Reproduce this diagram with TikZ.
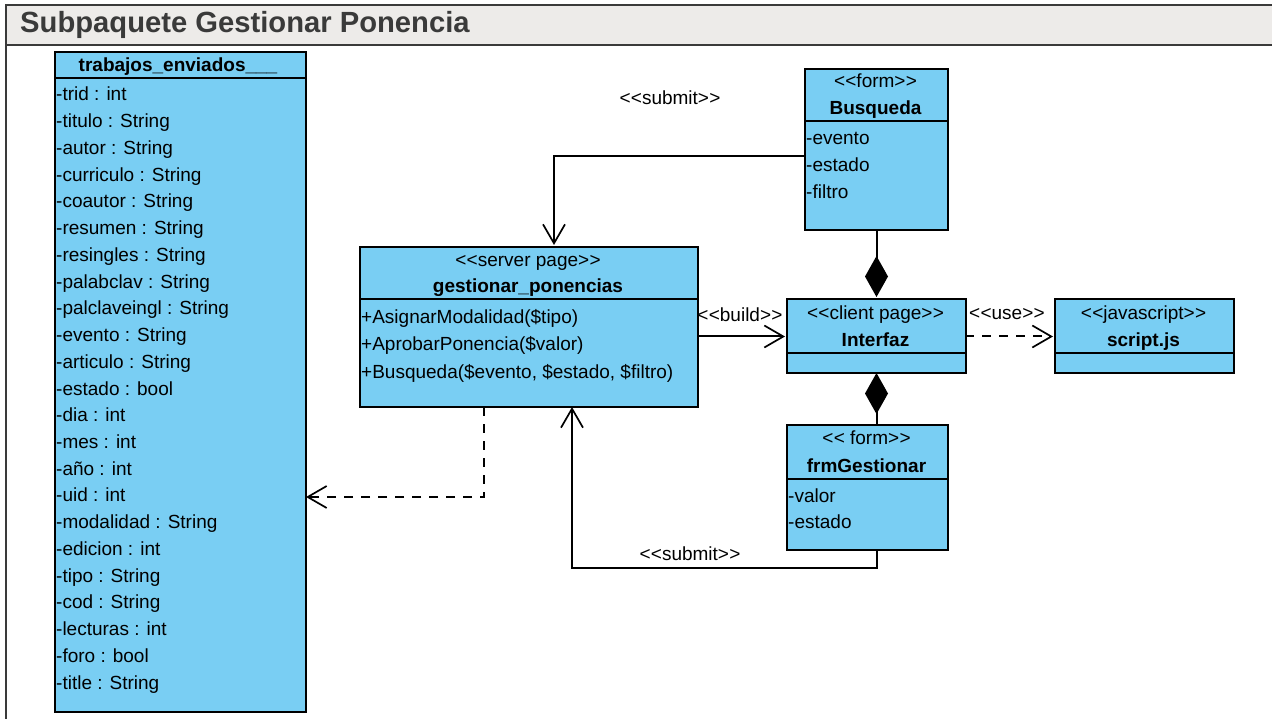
\documentclass[tikz,border=0pt]{standalone}
\usepackage{fontspec}
\setmainfont{Liberation Sans}
\usetikzlibrary{arrows.meta}

\definecolor{boxblue}{HTML}{79CEF3}
\definecolor{framegray}{HTML}{3A3A3A}
\definecolor{headgray}{HTML}{EDEBE9}

% stereotype brackets as two separate angle signs (kern keeps them apart)
\newcommand{\stereo}[1]{\textless\kern0.3pt\textless #1\textgreater\kern0.3pt\textgreater}

\begin{document}
\begin{tikzpicture}[x=1pt,y=-1pt,
  umlbox/.style={draw=black,fill=boxblue,line width=2.2pt,inner sep=0pt,anchor=north west},
  divider/.style={line width=1.3pt},
  txt/.style={inner sep=0pt,font=\fontsize{19}{23}\selectfont},
  clsname/.style={inner sep=0pt,font=\fontsize{19}{23}\selectfont\bfseries},
  conn/.style={line width=2pt},
  openhead/.style={-{Straight Barb[length=19pt,width=22pt,line width=1.7pt]}},
  dashline/.style={dash pattern=on 9pt off 8pt},
  diamondtail/.style={{Diamond[length=41pt,width=23pt]}-}
]
\useasboundingbox (0,0) rectangle (1272,719);

% package frame and title band
\fill[headgray] (6,5) rectangle (1272,45);
\draw[framegray,line width=2.5pt] (1272,5) -- (6,5) -- (6,719);
\draw[framegray,line width=2.5pt] (6,45) -- (1272,45);
\node[anchor=base west,inner sep=0pt,text=framegray,
      font=\fontsize{29.2}{31}\selectfont\bfseries] (title) at (20,33)
  {Subpaquete Gestionar Ponencia};

% ---------------- class trabajos_enviados ----------------
\node[umlbox,minimum width=251pt,minimum height=660pt] (trab) at (54,51) {};
\draw[divider] (54,78) -- (305,78);
\node[clsname,anchor=base] (trabname) at (178,72) {trabajos\_enviados\_\_\_};
\foreach \a [count=\i] in {-trid : int,-titulo : String,-autor : String,
  -curriculo : String,-coautor : String,-resumen : String,-resingles : String,
  -palabclav : String,-palclaveingl : String,-evento : String,-articulo : String,
  -estado : bool,-dia : int,-mes : int,-año : int,-uid : int,
  -modalidad : String,-edicion : int,-tipo : String,-cod : String,
  -lecturas : int,-foro : bool,-title : String}
  \node[txt,anchor=base west] (attr\i) at (56,{101+26.73*(\i-1)}) {\a};

% ---------------- server page gestionar_ponencias ----------------
\node[umlbox,minimum width=338pt,minimum height=160pt] (gest) at (359,246) {};
\draw[divider] (359,299) -- (697,299);
\node[txt,anchor=base] (geststereo) at (528,267) {\stereo{server page}};
\node[clsname,anchor=base] (gestname) at (528,293) {gestionar\_ponencias};
\node[txt,anchor=base west] (op1) at (361,324) {+AsignarModalidad(\$tipo)};
\node[txt,anchor=base west] (op2) at (361,351) {+AprobarPonencia(\$valor)};
\node[txt,anchor=base west] (op3) at (361,378) {+Busqueda(\$evento, \$estado, \$filtro)};

% ---------------- form Busqueda ----------------
\node[umlbox,minimum width=143pt,minimum height=161pt] (busq) at (804,68) {};
\draw[divider] (804,121) -- (947,121);
\node[txt,anchor=base] (busqstereo) at (875.5,88) {\stereo{form}};
\node[clsname,anchor=base] (busqname) at (875.5,115) {Busqueda};
\node[txt,anchor=base west] (busqa1) at (806,145) {-evento};
\node[txt,anchor=base west] (busqa2) at (806,172) {-estado};
\node[txt,anchor=base west] (busqa3) at (806,199) {-filtro};

% ---------------- client page Interfaz ----------------
\node[umlbox,minimum width=179pt,minimum height=74pt] (intf) at (786,298) {};
\draw[divider] (786,353) -- (965,353);
\node[txt,anchor=base] (intfstereo) at (875.5,320) {\stereo{client page}};
\node[clsname,anchor=base] (intfname) at (875.5,347) {Interfaz};

% ---------------- javascript script.js ----------------
\node[umlbox,minimum width=179pt,minimum height=74pt] (js) at (1054,298) {};
\draw[divider] (1054,353) -- (1233,353);
\node[txt,anchor=base] (jsstereo) at (1143.5,320) {\stereo{javascript}};
\node[clsname,anchor=base] (jsname) at (1143.5,346) {script.js};

% ---------------- form frmGestionar ----------------
\node[umlbox,minimum width=161pt,minimum height=125pt] (frm) at (786,424) {};
\draw[divider] (786,479) -- (947,479);
\node[txt,anchor=base] (frmstereo) at (866.5,444) {\stereo{ form}};
\node[clsname,anchor=base] (frmname) at (866.5,472) {frmGestionar};
\node[txt,anchor=base west] (frma1) at (788,502) {-valor};
\node[txt,anchor=base west] (frma2) at (788,528) {-estado};

% ---------------- connectors ----------------
\coordinate (busqout) at (804,156.5);
\coordinate (gestin)  at (554,245);
\draw[conn,openhead] (busqout) -| (gestin);
\node[txt,anchor=base] (submit1) at (670,105) {\stereo{submit}};

\coordinate (buildfrom) at (697,336.5);
\coordinate (buildto)   at (785,336.5);
\draw[conn,openhead] (buildfrom) -- (buildto);
\node[txt,anchor=base] (buildlbl) at (740,322) {\stereo{build}};

\coordinate (usefrom) at (965,336.5);
\coordinate (useto)   at (1053,336.5);
\draw[conn,dashline,openhead] (usefrom) -- (useto);
\node[txt,anchor=base] (uselbl) at (1007,320) {\stereo{use}};

\coordinate (intftop) at (876.5,297);
\coordinate (busqbot) at (876.5,229);
\draw[conn,diamondtail] (intftop) -- (busqbot);

\coordinate (intfbot) at (876.5,373);
\coordinate (frmtop)  at (876.5,424);
\draw[conn,diamondtail] (intfbot) -- (frmtop);

\coordinate (frmbot)  at (876.5,549);
\coordinate (gestbot) at (572,407);
\coordinate (submitcorner) at (876.5,568);
\draw[conn,openhead] (frmbot) -- (submitcorner) -| (gestbot);
\node[txt,anchor=base] (submit2) at (690,560) {\stereo{submit}};

\coordinate (gestdep) at (484,407);
\coordinate (trabin)  at (306,497);
\draw[conn,dashline,openhead] (gestdep) |- (trabin);
\end{tikzpicture}
\end{document}
